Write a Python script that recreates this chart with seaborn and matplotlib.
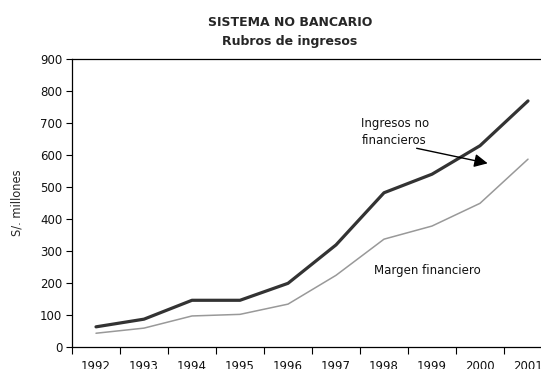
import matplotlib
matplotlib.use("Agg")
import matplotlib.pyplot as plt
import seaborn as sns
import pandas as pd
import numpy as np

years = ["1992", "1993", "1994", "1995", "1996", "1997", "1998", "1999", "2000", "2001"]
ingresos_no_financieros = [63, 87, 146, 146, 199, 319, 482, 540, 629, 769]
margen_financiero = [43, 59, 97, 102, 134, 224, 337, 378, 449, 587]
y_ticks = [0, 100, 200, 300, 400, 500, 600, 700, 800, 900]

sns.set_theme(style="white")
plt.rcParams["font.family"] = ["DejaVu Sans"]

pos = np.arange(len(years))
df = pd.DataFrame({
    "pos": np.concatenate([pos, pos]),
    "valor": ingresos_no_financieros + margen_financiero,
    "serie": ["Ingresos no financieros"] * len(years) + ["Margen financiero"] * len(years),
})

fig = plt.figure(figsize=(5.41, 3.69), dpi=100)
W, H = 541, 369
ax = fig.add_axes([72 / W, (H - 347) / H, 480 / W, 288 / H])

sns.lineplot(data=df[df.serie == "Ingresos no financieros"], x="pos", y="valor",
             color="#333333", linewidth=2.3, ax=ax, legend=False)
sns.lineplot(data=df[df.serie == "Margen financiero"], x="pos", y="valor",
             color="#999999", linewidth=1.1, ax=ax, legend=False)

ax.set_xlim(-0.5, len(years) - 0.5)
ax.set_ylim(0, 900)
ax.set_yticks(y_ticks)
ax.set_yticklabels([str(t) for t in y_ticks])
ax.set_xticks(pos)
ax.set_xticklabels(years)
ax.set_xticks(np.arange(len(years) + 1) - 0.5, minor=True)
ax.tick_params(axis="x", which="major", length=0, pad=9, labelsize=8.5, colors="#111111")
ax.tick_params(axis="x", which="minor", length=5, width=0.8, direction="out", color="black", bottom=True)
ax.tick_params(axis="y", which="major", length=4, width=0.8, direction="out", color="black",
               left=True, pad=3, labelsize=8.5, colors="#111111")
ax.set_xlabel("")
ax.set_ylabel("S/. millones", fontsize=8.3, labelpad=12)

for s in ["left", "bottom", "top"]:
    ax.spines[s].set_visible(True)
    ax.spines[s].set_color("black")
    ax.spines[s].set_linewidth(0.9)
ax.spines["right"].set_visible(False)

fig.text(290 / W, 1 - 23 / H, "SISTEMA NO BANCARIO", ha="center", va="center",
         fontsize=9, fontweight="bold")
fig.text(290 / W, 1 - 42 / H, "Rubros de ingresos", ha="center", va="center",
         fontsize=9, fontweight="bold")

ax.text(5.53, 700, "Ingresos no", fontsize=8.5, ha="left", va="center", color="#111111")
ax.text(5.53, 644, "financieros", fontsize=8.5, ha="left", va="center", color="#111111")
ax.annotate("", xy=(8.16, 574), xytext=(6.68, 621),
            arrowprops=dict(arrowstyle="-|>", color="black", lw=1.0,
                            mutation_scale=20, shrinkA=0, shrinkB=0))
ax.text(5.80, 238, "Margen financiero", fontsize=8.5, ha="left", va="center", color="#111111")

fig.savefig("out.png", dpi=100)
